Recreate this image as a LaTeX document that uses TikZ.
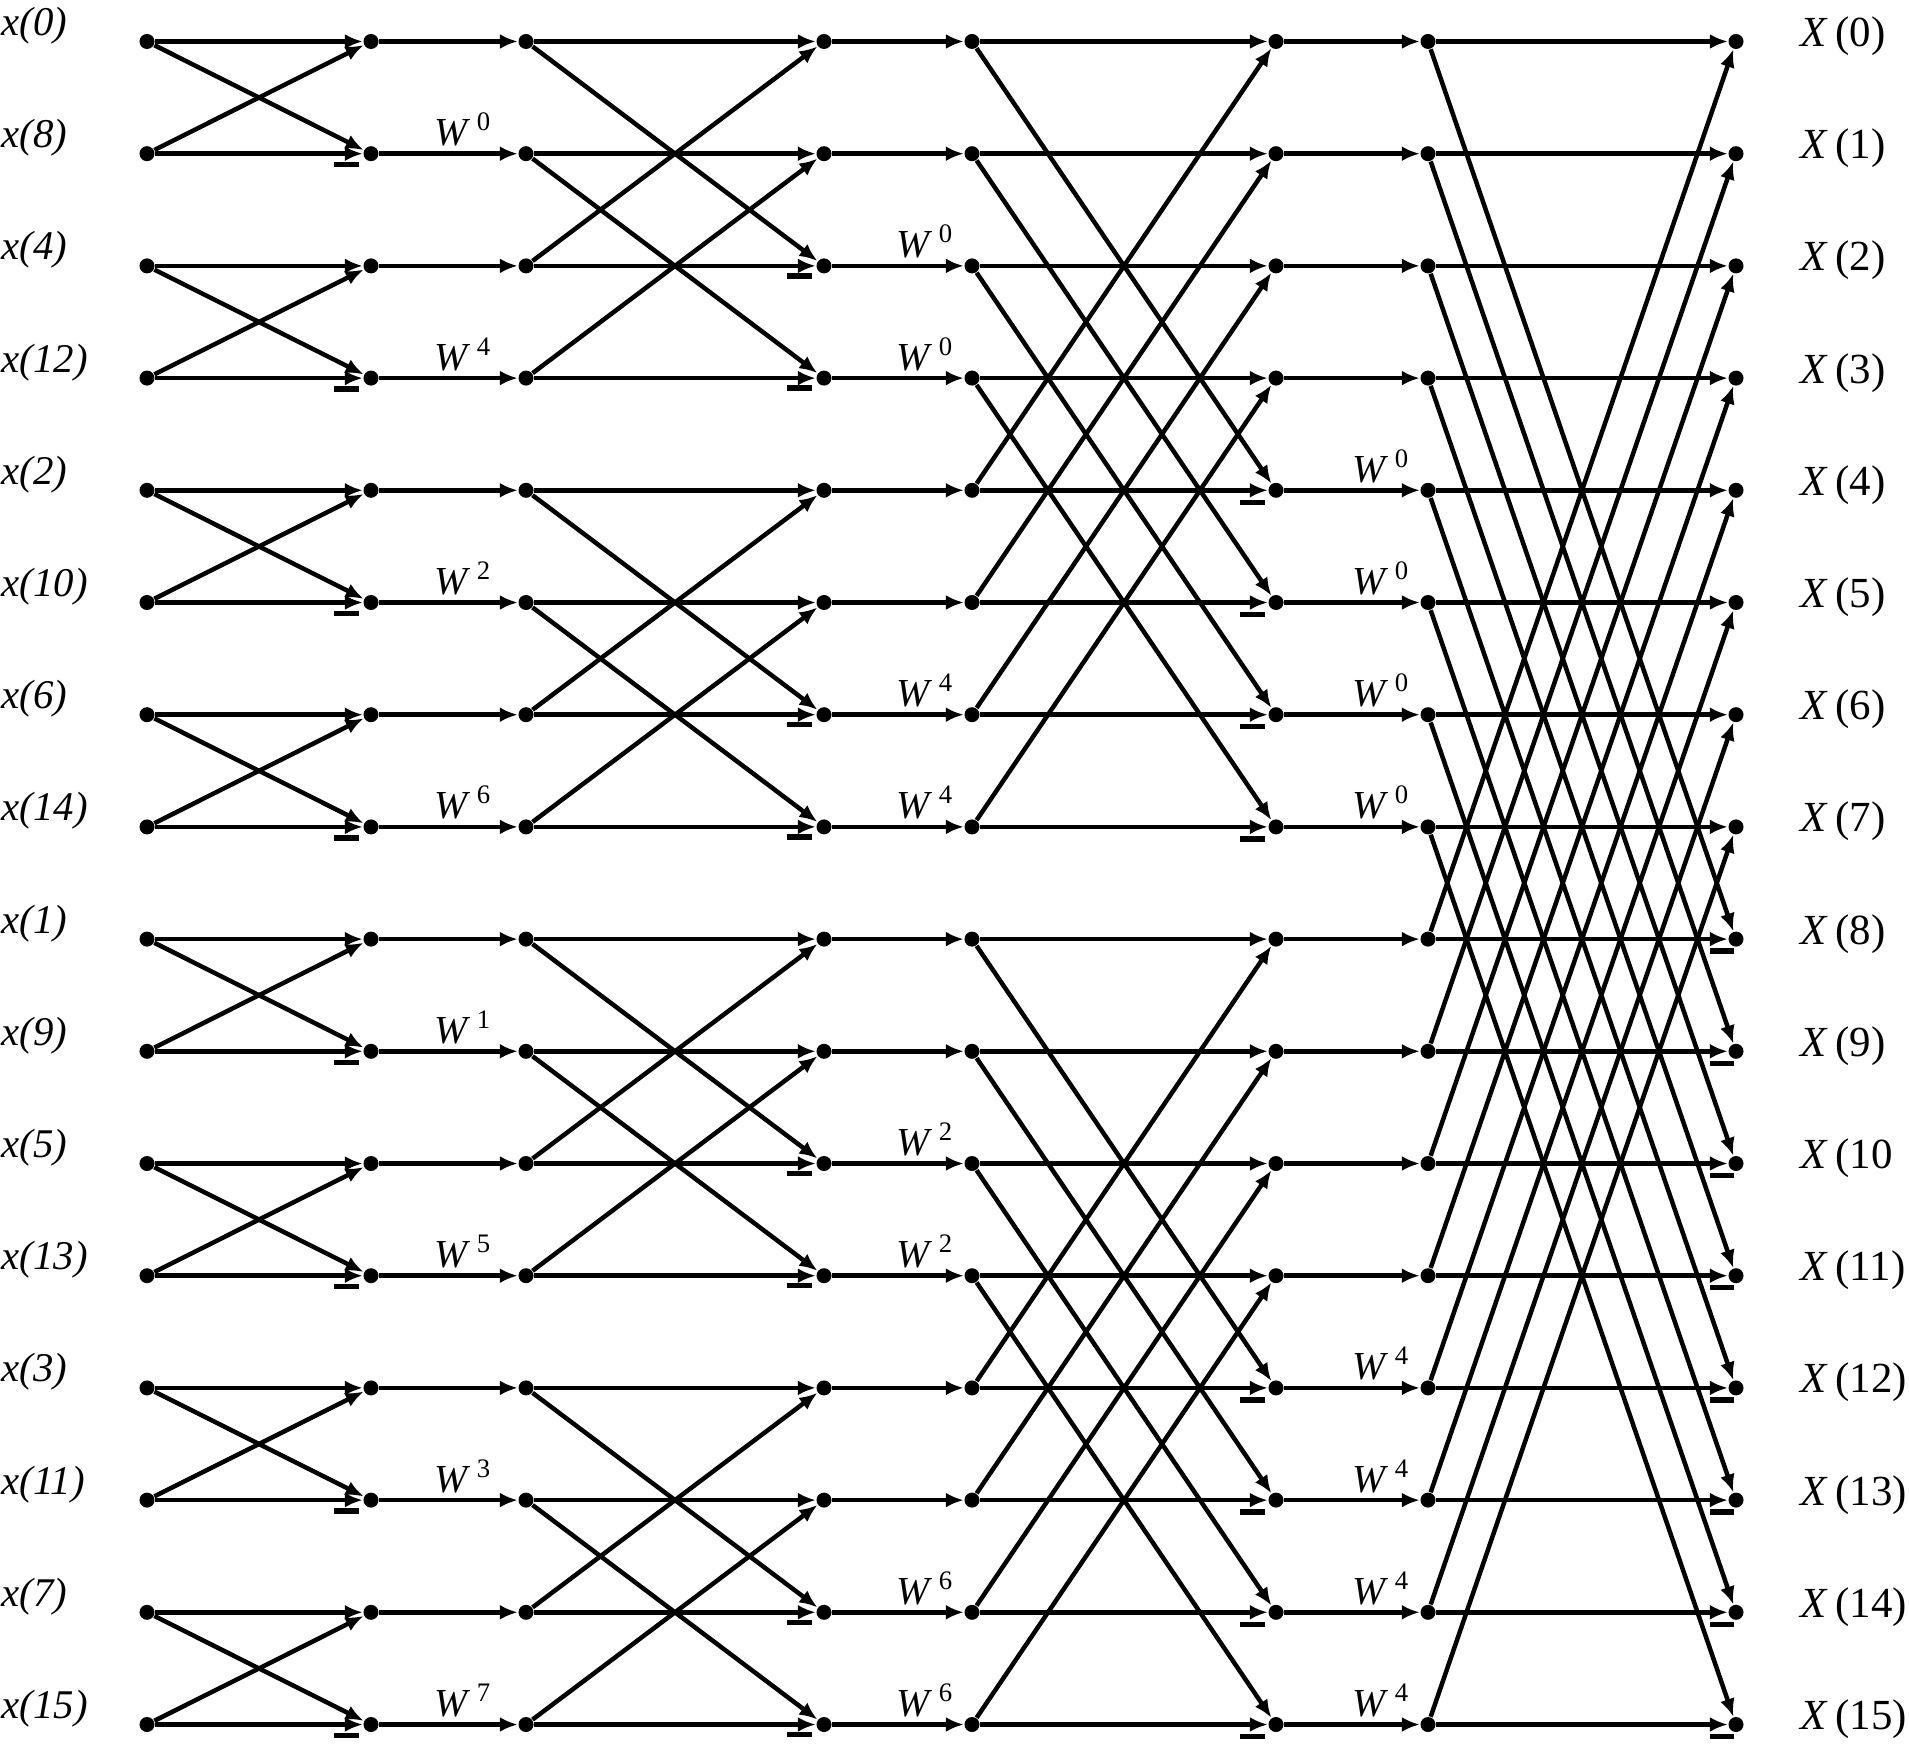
\documentclass[tikz,border=0pt]{standalone}
\usepackage{fontspec}
\setmainfont{Liberation Serif}
\usetikzlibrary{arrows.meta}
\tikzstyle{dot} = [circle, fill=black, inner sep=0pt, minimum size=0.15cm]
\tikzstyle{arrow} = [line width=0.045cm, -{Latex[length=0.18cm, width=0.15cm]}]
\tikzstyle{minus} = [line width=0.055cm]
\tikzstyle{inlabel} = [anchor=base west, inner sep=0pt, font=\fontsize{11.6}{12}\selectfont\itshape]
\tikzstyle{outlabel} = [anchor=base west, inner sep=0pt, font=\fontsize{12.2}{13}\selectfont]
\tikzstyle{wlabel} = [anchor=base west, inner sep=0pt, font=\fontsize{11.3}{12}\selectfont]
\newcommand{\tw}[1]{\textit{W}\hspace{0.06cm}\raisebox{0.15cm}{\fontsize{7.6}{8}\selectfont #1}}

\begin{document}
\begin{tikzpicture}[x=0.01cm, y=-0.01cm]
\useasboundingbox (0,0) rectangle (1909,1749);

% Nodes of the flow graph
\foreach \c/\x in {0/147,1/371,2/526,3/824,4/972,5/1276,6/1428,7/1736}
  \foreach \r in {0,...,15}
    \node[dot] (n\c-\r) at (\x, {41.5+112.2*\r}) {};

% Inputs in bit-reversed order
\foreach \r/\k in {0/0,1/8,2/4,3/12,4/2,5/10,6/6,7/14,8/1,9/9,10/5,11/13,12/3,13/11,14/7,15/15}
  \node[inlabel] (in\r) at (1, {41.5+112.2*\r-6}) {x(\k)};

% Outputs
\foreach \r in {0,...,9,11,12,13,14,15}
  \node[outlabel] (out\r) at (1800, {41.5+112.2*\r+5}) {\textit{X}\,(\r)};
\node[outlabel] (out10) at (1800, {41.5+112.2*10+5}) {\textit{X}\,(10};

% Butterflies
\foreach \a/\b/\sp/\dx/\dy/\len in {0/1/1/-37/11/25, 2/3/2/-37/10/25, 4/5/4/-36/12/25, 6/7/8/-26/12/24}
  \foreach \r in {0,...,15} {
    \pgfmathtruncatemacro{\lo}{mod(floor(\r/\sp),2)}
    \pgfmathtruncatemacro{\p}{\r+\sp*(1-2*\lo)}
    \draw[arrow] (n\a-\r) -- (n\b-\r);
    \draw[arrow] (n\a-\r) -- (n\b-\p);
    \ifnum\lo=1
      \draw[minus] ([shift={(\dx,\dy)}]n\b-\r.center) -- ++(\len,0);
    \fi
  }

% Links between stages
\foreach \a/\b in {1/2,3/4,5/6}
  \foreach \r in {0,...,15}
    \draw[arrow] (n\a-\r) -- (n\b-\r);

% Twiddle factors
\foreach \r/\e in {1/0,3/4,5/2,7/6,9/1,11/5,13/3,15/7}
  \path (n1-\r.center) ++(63,-8) node[wlabel] {\tw{\e}};
\foreach \r/\e in {2/0,3/0,6/4,7/4,10/2,11/2,14/6,15/6}
  \path (n3-\r.center) ++(72,-8) node[wlabel] {\tw{\e}};
\foreach \r/\e in {4/0,5/0,6/0,7/0,12/4,13/4,14/4,15/4}
  \path (n5-\r.center) ++(76,-8) node[wlabel] {\tw{\e}};
\end{tikzpicture}
\end{document}
